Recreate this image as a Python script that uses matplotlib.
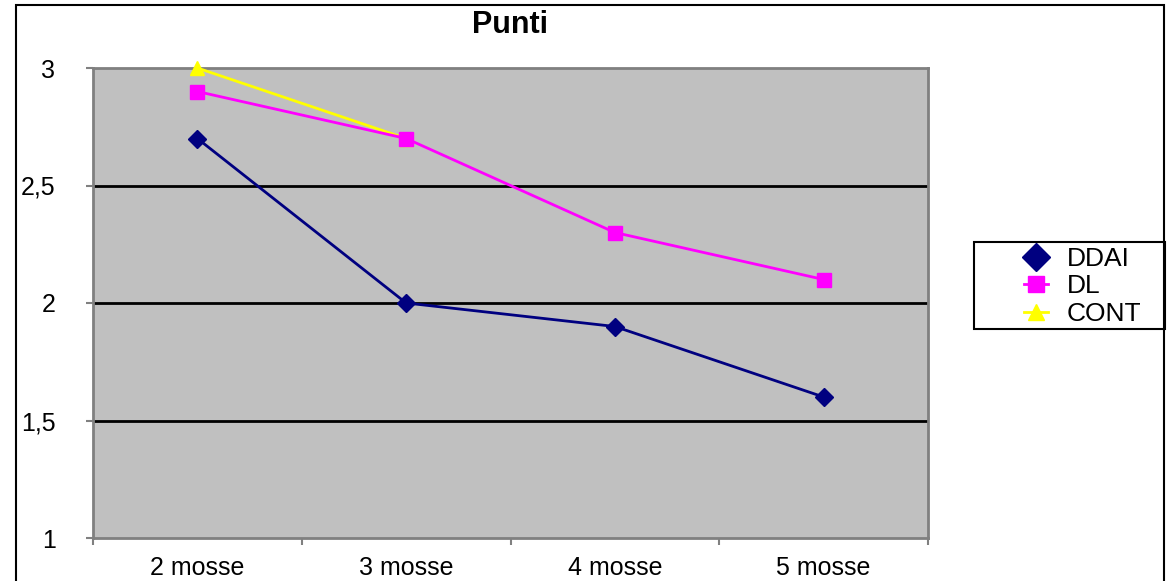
import numpy as np
import matplotlib.pyplot as plt
from matplotlib.patches import Rectangle

plt.rcParams['font.family'] = ['Liberation Sans', 'DejaVu Sans']

categories = ['2 mosse', '3 mosse', '4 mosse', '5 mosse']
ddai = [2.7, 2.0, 1.9, 1.6]
dl = [2.9, 2.7, 2.3, 2.1]
cont = [3.0, 2.7, np.nan, np.nan]

fig = plt.figure(figsize=(11.67, 5.81), dpi=100)
ax = fig.add_axes([93/1167, 43/581, 835/1167, 470/581])
ax.set_facecolor('#C0C0C0')

x = np.arange(len(categories)) + 0.5
ax.plot(x, cont, color='#FFFF00', marker='^', ms=10, lw=2, label='CONT', clip_on=False, zorder=3)
ax.plot(x, dl, color='#FF00FF', marker='s', ms=10, lw=2, label='DL', clip_on=False, zorder=4)
ax.plot(x, ddai, color='#000080', marker='D', ms=9, lw=2, label='DDAI', clip_on=False, zorder=5)

ax.set_xlim(0, 4)
ax.set_ylim(1, 3)
ax.set_yticks([1, 1.5, 2, 2.5, 3])
ax.set_yticklabels(['1', '1,5', '2', '2,5', '3'], fontsize=18)
ax.set_xticks([0, 1, 2, 3, 4])
ax.set_xticklabels([])
ax.set_xticks(x, minor=True)
ax.set_xticklabels(categories, minor=True, fontsize=18)
ax.tick_params(axis='x', which='minor', length=0, pad=13)
ax.tick_params(axis='x', which='major', length=5, color='#808080', width=1.5)
ax.tick_params(axis='y', length=5, color='#808080', width=1.5, pad=22)
for lab in ax.get_yticklabels():
    lab.set_horizontalalignment('right')

for y in [1.5, 2, 2.5]:
    ax.axhline(y, color='black', lw=2, zorder=1)
for s in ax.spines.values():
    s.set_color('#808080')
    s.set_linewidth(2)

ax.set_title('Punti', fontsize=22, fontweight='bold', pad=25)

# legend without frame, box drawn separately (Excel style)
handles, labels = ax.get_legend_handles_labels()
leg = fig.legend(handles[::-1], labels[::-1], loc='upper left',
                 bbox_to_anchor=(1024/1167, 1 - 247/581),
                 fontsize=19, frameon=False,
                 handlelength=0.9, labelspacing=0.13, borderpad=0,
                 handletextpad=0.72, borderaxespad=0)
for h, ms in zip(leg.legend_handles, [14, 11, 12]):
    h.set_markersize(ms)
fig.patches.append(Rectangle((974/1167, 1 - 329/581), (1165 - 974)/1167, 87/581,
                             transform=fig.transFigure, fill=False,
                             edgecolor='black', lw=1.5))

fig.patches.append(Rectangle((16/1167, -0.1), (1164 - 16)/1167, 1.1 - 5/581,
                             transform=fig.transFigure, fill=False,
                             edgecolor='black', lw=1.5))

fig.savefig('out.png', dpi=100)
